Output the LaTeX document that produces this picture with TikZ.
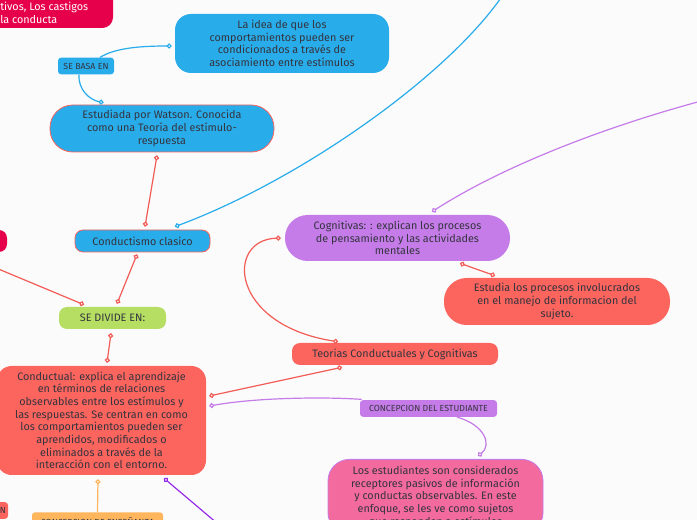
\documentclass[tikz,border=0pt]{standalone}
\usepackage{fontspec}
\setmainfont{Fira Sans}
\usepackage{tikz}
\usetikzlibrary{arrows.meta}

\definecolor{paper}{RGB}{251,251,252}
\definecolor{ink}{RGB}{52,52,62}
\definecolor{mapblue}{RGB}{41,172,234}
\definecolor{mapcrimson}{RGB}{230,0,76}
\definecolor{mapsalmon}{RGB}{252,100,94}
\definecolor{mapred}{RGB}{242,92,86}
\definecolor{mapgreen}{RGB}{181,222,98}
\definecolor{mappurple}{RGB}{197,124,232}
\definecolor{mapviolet}{RGB}{150,44,232}
\definecolor{maporange}{RGB}{255,181,92}
\definecolor{mappink}{RGB}{243,106,158}

\begin{document}
\begin{tikzpicture}[x=0.75pt, y=-0.75pt,
        topic/.style={rectangle, align=center, text=ink, inner sep=2pt, font=\fontsize{8.1}{9.5}\selectfont},
        tagbox/.style={rectangle, rounded corners=2.3pt, align=center, text=ink, inner sep=1pt, minimum height=12.5pt, font=\fontsize{6.6}{7.5}\selectfont},
        link/.style={line width=0.9pt},
        dots/.style={{Circle[length=3.8pt, fill=white]}-{Circle[length=3.8pt, fill=white]}},
        enddot/.style={-{Circle[length=3.8pt, fill=white]}},
        startdot/.style={{Circle[length=3.8pt, fill=white]}-}
    ]
        \useasboundingbox (0,0) rectangle (697,520);
        \clip (0,0) rectangle (697,520);
        \fill[paper] (0,0) rectangle (697,520);

        \node[topic, fill=mapcrimson, rounded corners=8pt, minimum width=129.75pt, minimum height=43.5pt] (punish) at (26.5,-1) {};
        \node[topic, text=white, anchor=west, align=left, inner sep=0pt] (punishtext) at (0,13) {tivos, Los castigos\\la conducta};

        \node[topic, fill=mapblue, rounded corners=12pt, minimum width=160.5pt, minimum height=44.25pt] (idea) at (282,43.5) {
            La idea de que los\\comportamientos pueden ser\\condicionados a través de\\asociamiento entre estímulos
        };
        \node[tagbox, fill=mapblue, minimum width=42pt] (basa) at (86,66) {SE BASA EN};
        \node[topic, fill=mapblue, draw=mapsalmon, line width=0.6pt, rounded corners=17pt, minimum width=168pt, minimum height=35.25pt] (watson) at (162,128.5) {
            Estudiada por Watson. Conocida\\como una Teoría del estímulo-\\respuesta
        };
        \node[topic, fill=mapblue, draw=mapsalmon, line width=0.6pt, rounded corners=6pt, minimum width=101.25pt, minimum height=16.5pt] (clasico) at (142.5,241) {Conductismo clasico};
        \node[topic, fill=mapcrimson, rounded corners=6pt, minimum width=35.25pt, minimum height=16.5pt] (leftred) at (-16.5,241) {};
        \node[topic, fill=mapgreen, rounded corners=6pt, minimum width=80.25pt, minimum height=16.5pt] (divide) at (112.5,318) {SE DIVIDE EN:};
        \node[topic, fill=mapsalmon, rounded corners=11pt, minimum width=156.75pt, minimum height=81.75pt] (conductual) at (101.5,420.5) {
            Conductual: explica el aprendizaje\\en términos de relaciones\\observables entre los estímulos y\\las respuestas. Se centran en como\\los comportamientos pueden ser\\aprendidos, modificados o\\eliminados a través de la\\interacción con el entorno.
        };
        \node[topic, fill=mapsalmon, rounded corners=6pt, minimum width=154.5pt, minimum height=16.5pt] (teorias) at (395,354) {Teorias Conductuales y Cognitivas};
        \node[topic, fill=mappurple, rounded corners=17pt, minimum width=168.75pt, minimum height=34.5pt] (cognitivas) at (397.5,238) {
            Cognitivas: : explican los procesos\\de pensamiento y las actividades\\mentales
        };
        \node[topic, fill=mapsalmon, rounded corners=17pt, minimum width=169.5pt, minimum height=35.25pt] (estudia) at (557,301.5) {
            Estudia los procesos involucrados\\en el manejo de informacion del\\sujeto.
        };
        \node[tagbox, fill=mappurple, minimum width=102.75pt] (estudiante) at (428.5,408.5) {CONCEPCION DEL ESTUDIANTE};
        \node[topic, fill=mappink, draw=mappurple, line width=0.6pt, rounded corners=16pt, minimum width=161.25pt, inner ysep=5pt, anchor=north] (alumnos) at (435.5,459) {
            Los estudiantes son considerados\\receptores pasivos de información\\y conductas observables. En este\\enfoque, se les ve como sujetos\\que responden a estímulos
        };
        \node[tagbox, fill=maporange, minimum width=98.25pt, minimum height=13.5pt, anchor=north] (ensenanza) at (97.5,512) {CONCEPCION DE ENSEÑANZA};
        \node[tagbox, fill=mapsalmon, minimum width=36pt, text width=33pt, align=right] (leftn) at (-16,510.5) {N};

        \coordinate (offtop) at (505,-8);
        \coordinate (offright) at (705,100);
        \coordinate (offleft) at (-40,253);
        \coordinate (offbottom) at (218,524);

        \draw[link, mapblue, enddot] ([shift={(14,0)}]basa.north) .. controls (115,48) and (140,46) .. ([shift={(-3,2.5)}]idea.west);
        \draw[link, mapblue, enddot] ([shift={(-7,0)}]basa.south) .. controls (78,90) and (90,100) .. ([shift={(54,-2)}]watson.north west);
        \draw[link, mapred, dots] ([shift={(-5,3)}]watson.south) -- ([shift={(2.5,-3)}]clasico.north);
        \draw[link, mapblue, startdot] ([shift={(32.5,-3)}]clasico.north) .. controls (300,180) and (450,75) .. (offtop);
        \draw[link, mapred, dots] ([shift={(-5.5,2)}]clasico.south) -- ([shift={(4.5,-3)}]divide.north);
        \draw[link, mapred, enddot] (offleft) -- ([shift={(-28.5,-2)}]divide.north);
        \draw[link, mapred, dots] ([shift={(-1.5,4)}]divide.south) -- ([shift={(5.5,-3)}]conductual.north);
        \draw[link, mapred, dots] ([shift={(3,-24.5)}]conductual.east) -- ([shift={(-53,2)}]teorias.south);
        \draw[link, mapred, dots] ([shift={(-57,-1)}]teorias.north) .. controls (230,325) and (225,240) .. ([shift={(-4,0)}]cognitivas.west);
        \draw[link, mappurple, startdot] ([shift={(34.5,-3)}]cognitivas.north) .. controls (500,168) and (600,128) .. (offright);
        \draw[link, mapred, dots] ([shift={(62.5,2)}]cognitivas.south) -- ([shift={(-62,-2)}]estudia.north);
        \draw[link, mappurple, startdot] ([shift={(3,-14.5)}]conductual.east) .. controls (260,397) and (330,397) .. ([shift={(2,-0.5)}]estudiante.north west);
        \draw[link, mappurple, enddot] ([shift={(28.5,0)}]estudiante.south) .. controls (485,425) and (492,445) .. ([shift={(42.5,-3)}]alumnos.north);
        \draw[link, maporange, startdot] ([shift={(-3.5,4)}]conductual.south) -- (ensenanza.north);
        \draw[link, mapviolet, startdot] ([shift={(62.5,3)}]conductual.south) -- (offbottom);
    \end{tikzpicture}
\end{document}
